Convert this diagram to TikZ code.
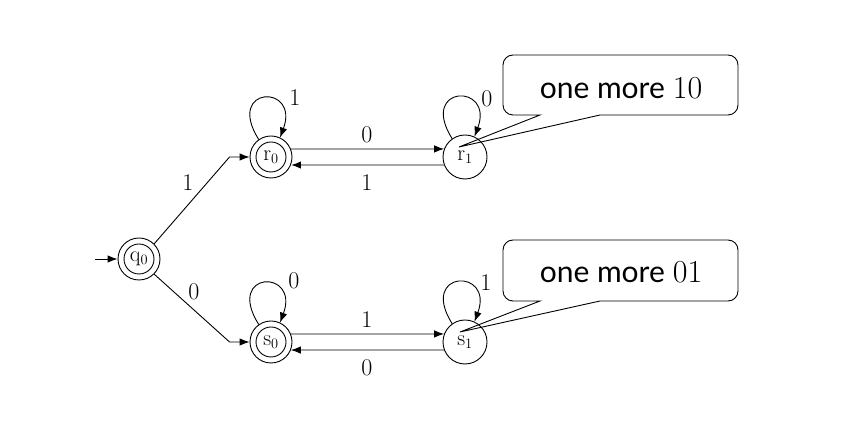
\documentclass[tikz,border=0pt]{standalone}
\usepackage{fontspec}
\newfontfamily\calloutfont{Lato}
\usetikzlibrary{arrows.meta,calc}
\newcommand{\calldigits}[1]{\hspace{8pt}{\fontsize{32}{34}\selectfont\rmfamily #1}}
\begin{document}
\begin{tikzpicture}[x=1pt,y=1pt,line width=0.9pt,
  every node/.style={inner sep=0pt},
  state/.style={circle,draw,minimum size=44pt,font=\fontsize{22}{24}\selectfont},
  accept/.style={circle,draw,minimum size=42pt,font=\fontsize{22}{24}\selectfont,
    path picture={\draw (path picture bounding box.center) circle[radius=15pt];}},
  trans/.style={draw,-{Latex[length=10pt,width=7.5pt]}},
  back/.style={draw=black!35,line width=1.6pt,-{Latex[length=10pt,width=7.5pt,color=black]}},
  selfloop/.style={trans,to path={.. controls +(-34,54) and +(20,54) .. (\tikztotarget)}},
  lbl/.style={font=\fontsize{24}{26}\selectfont},
  callbox/.style={draw},
  calltext/.style={font=\fontsize{30}{32}\selectfont\calloutfont}
]
\useasboundingbox (0,0) rectangle (849,436);

% states
\node[accept] (q0) at (139,177) {$\mathrm{q}_0$};
\node[accept] (r0) at (271,279) {$\mathrm{r}_0$};
\node[state]  (r1) at (465,279) {$\mathrm{r}_1$};
\node[accept] (s0) at (271,94)  {$\mathrm{s}_0$};
\node[state]  (s1) at (465,94)  {$\mathrm{s}_1$};

% start arrow
\coordinate (init) at (95,177);
\draw[trans] (init) -- (q0.west);

% branches out of the start state
\draw[trans] (q0.45) -- ([xshift=-20pt]r0.west) -- (r0.west);
\draw[trans] (q0.-45) -- ([xshift=-20pt]s0.west) -- (s0.west);
\node[lbl] (l1) at (188,253) {1};
\node[lbl] (l2) at (194,144) {0};

% upper pair
\draw[trans] (r0.22) -- (r1.159);
\draw[back]  (r1.-159) -- (r0.-22);
\node[lbl] (l3) at (367,301) {0};
\node[lbl] (l4) at (367,253) {1};
\draw[selfloop] (r0.125) to (r0.65);
\node[lbl] (l5) at (295,338) {1};
\draw[selfloop] (r1.125) to (r1.65);
\node[lbl] (l6) at (487,337) {0};

% lower pair
\draw[trans] (s0.22) -- (s1.159);
\draw[trans] (s1.-159) -- (s0.-22);
\node[lbl] (l7) at (367,116) {1};
\node[lbl] (l8) at (367,68) {0};
\draw[selfloop] (s0.125) to (s0.65);
\node[lbl] (l9) at (294,155) {0};
\draw[selfloop] (s1.125) to (s1.65);
\node[lbl] (l10) at (486,153) {1};

% callouts
\coordinate (p1) at ($(r1)+(-6,10)$);
\draw[callbox,rounded corners=10pt] (600,321) -- (738,321) -- (738,381) -- (503,381)
  -- (503,321) [sharp corners] -- (540,321) -- (p1) -- (600,321);
\node[calltext] (c1) at (621,348) {one more\calldigits{10}};

\coordinate (p2) at ($(s1)+(-5,10)$);
\draw[callbox,rounded corners=10pt] (600,135) -- (738,135) -- (738,196) -- (503,196)
  -- (503,135) [sharp corners] -- (540,135) -- (p2) -- (600,135);
\node[calltext] (c2) at (621,164) {one more\calldigits{01}};
\end{tikzpicture}
\end{document}
